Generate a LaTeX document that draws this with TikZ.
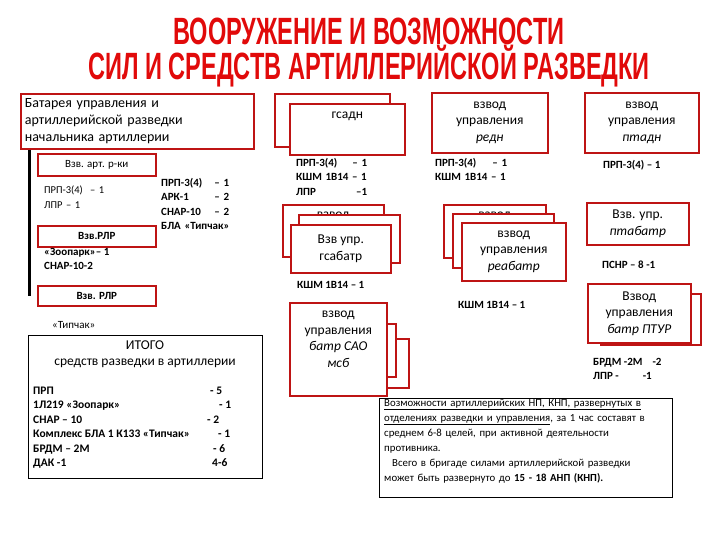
\documentclass[tikz,border=0pt]{standalone}
\usepackage{fontspec}
\setmainfont{Carlito}
\newfontfamily\titlefont[FakeStretch=0.62]{Liberation Sans}
\definecolor{boxred}{RGB}{190,20,20}
\definecolor{titlered}{RGB}{225,10,10}

\begin{document}
\begin{tikzpicture}[x=1pt,y=-1pt,
    rbox/.style={draw=boxred,line width=1.6pt,fill=white,align=center,inner sep=2pt,
      anchor=north west,font=\fontsize{13.5}{16.5}\selectfont},
    kbox/.style={draw=black,line width=0.9pt,anchor=north west,inner sep=0pt},
    note/.style={anchor=north west,align=left,inner sep=0pt,
      font=\bfseries\fontsize{11}{14.5}\selectfont},
    peek/.style={anchor=north,yshift=-8pt,inner sep=0pt,font=\fontsize{13.5}{16.5}\selectfont}]
  \useasboundingbox (0,0) rectangle (720,540);

  % title
  \node[font=\titlefont\bfseries\fontsize{38}{40}\selectfont,text=titlered] (title1) at (369,31) {ВООРУЖЕНИЕ И ВОЗМОЖНОСТИ};
  \node[font=\titlefont\bfseries\fontsize{38}{40}\selectfont,text=titlered] (title2) at (369,66) {СИЛ И СРЕДСТВ АРТИЛЛЕРИЙСКОЙ РАЗВЕДКИ};

  % battery of the chief of artillery
  \node[rbox,minimum width=233,minimum height=55,align=left,text width=225,inner sep=4pt,font=\fontsize{14}{17}\selectfont] (bat) at (20,93)
    {Батарея управления и\\артиллерийской разведки\\начальника артиллерии};
  \coordinate (batline) at (29,296);
  \draw[line width=3pt] (bat.south west -| batline) -- (batline);

  \node[rbox,minimum width=118,minimum height=22,font=\fontsize{11}{13}\selectfont] (vzart) at (37,153) {Взв. арт. р-ки};
  \node[rbox,minimum width=118,minimum height=21,font=\bfseries\fontsize{11}{13}\selectfont] (vzrlr) at (37,225) {Взв.РЛР};
  \node[rbox,minimum width=118,minimum height=20,font=\bfseries\fontsize{11}{13}\selectfont] (vzrlrb) at (37,285) {Взв. РЛР};

  \node[note,font=\fontsize{10.5}{15}\selectfont,text width=60] (artlist) at (44,186) {ПРП-3(4)\hfill – 1\\ЛПР – 1};
  \node[note,text width=68] (batlist) at (161,178) {ПРП-3(4)\hfill – 1\\АРК-1\hfill – 2\\СНАР-10\hfill – 2\\\makebox[0pt][l]{БЛА «Типчак»}};
  \node[note] (rlrlist) at (44,248) {«Зоопарк»– 1\\СНАР-10-2};
  \node[note,font=\fontsize{11}{14}\selectfont,anchor=west] (tipchak) at (52,325) {«Типчак»};

  % total
  \node[kbox,minimum width=234,minimum height=143] (itogo) at (28,335) {};
  \node[align=center,font=\fontsize{13.5}{16.5}\selectfont] (itogohead) at (145,354) {ИТОГО\\средств разведки в артиллерии};
  \node[note,font=\bfseries\fontsize{11.5}{14.5}\selectfont] (itogolist) at (33,384)
    {\begin{tabular}{@{}p{177pt}@{}l@{}}
      ПРП & - 5\\
      1Л219 «Зоопарк» & \hspace{9pt}- 1\\
      СНАР – 10 & \hspace{-3pt}- 2\\
      Комплекс БЛА 1 К133 «Типчак» & \hspace{8pt}- 1\\
      БРДМ – 2М & \hspace{3pt}- 6\\
      ДАК -1 & \hspace{2pt}4-6
    \end{tabular}};

  % gsadn
  \node[rbox,minimum width=115,minimum height=53] (gsadnb) at (274,93) {};
  \node[rbox,minimum width=115,minimum height=51,label={[peek,yshift=-1pt]north:гсадн}] (gsadn) at (289,103) {};
  \node[note,text width=71] (gsadnlist) at (296,158) {ПРП-3(4)\hfill – 1\\КШМ 1В14 – 1\\ЛПР\hfill –1};

  \node[rbox,minimum width=101,minimum height=52,label={[peek]north:взвод}] (gsabatrc) at (282,204) {};
  \node[rbox,minimum width=101,minimum height=48] (gsabatrb) at (298,214) {};
  \node[rbox,minimum width=100,minimum height=48] (gsabatr) at (290,224) {Взв упр.\\гсабатр};
  \node[note,anchor=west] (gsabatrlist) at (297,285) {КШМ 1В14 – 1};

  \node[rbox,minimum width=88,minimum height=49] (saoc) at (320,338) {};
  \node[rbox,minimum width=85,minimum height=53] (saob) at (310,323) {};
  \node[rbox,minimum width=97,minimum height=93,text depth=20pt] (sao) at (289,302) {взвод\\управления\\\textit{батр САО}\\\textit{мсб}};

  % redn, ptadn
  \node[rbox,minimum width=116,minimum height=60] (redn) at (431,92) {взвод\\управления\\\textit{редн}};
  \node[note,text width=72] (rednlist) at (435,158) {ПРП-3(4)\hfill – 1\\КШМ 1В14 – 1};
  \node[rbox,minimum width=114,minimum height=60] (ptadn) at (584,92) {взвод\\управления\\\textit{птадн}};
  \node[note,anchor=west] (ptadnlist) at (603,165) {ПРП-3(4) – 1};

  \node[rbox,minimum width=102,minimum height=53,label={[peek]north:взвод}] (reabatrc) at (443,204) {};
  \node[rbox,minimum width=101,minimum height=54] (reabatrb) at (452,213) {};
  \node[rbox,minimum width=104,minimum height=58] (reabatr) at (461,222) {взвод\\управления\\\textit{реабатр}};
  \node[note,anchor=west] (reabatrlist) at (458,305) {КШМ 1В14 – 1};

  \node[rbox,minimum width=102,minimum height=42] (ptabatr) at (586,202) {Взв. упр.\\\textit{птабатр}};
  \node[note,anchor=west] (ptabatrlist) at (602,265) {ПСНР – 8 -1};

  \node[rbox,minimum width=100,minimum height=51] (pturb) at (600,293) {};
  \node[rbox,minimum width=103,minimum height=59] (ptur) at (587,283) {Взвод\\управления\\\textit{батр ПТУР}};
  \node[note] (pturlist) at (593,358) {БРДМ -2М\hspace{10pt}-2\\ЛПР -\hspace{24pt}-1};

  % possibilities
  \node[kbox,minimum width=293,minimum height=99] (vozm) at (379,398) {};
  \node[note,font=\fontsize{10.8}{15}\selectfont,text width=285] (vozmtext) at (384,399)
    {\underline{Возможности артиллерийских НП, КНП, развернутых в}\\
     \underline{отделениях разведки и управления}, за 1 час составят в\\
     среднем 6-8 целей, при активной деятельности\\
     противника.\\
     \hspace*{8pt}Всего в бригаде силами артиллерийской разведки\\
     может быть развернуто до \textbf{15 - 18 АНП (КНП).}};
\end{tikzpicture}
\end{document}
